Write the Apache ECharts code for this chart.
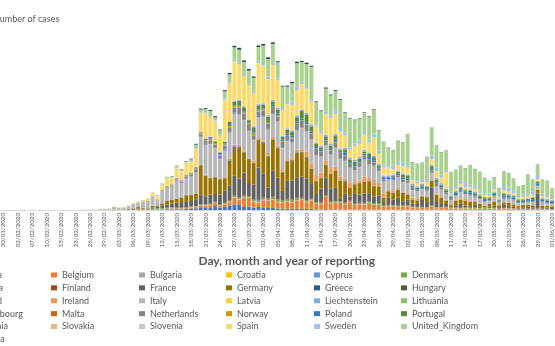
<!DOCTYPE html>
<html>
<head>
<meta charset="utf-8">
<script src="https://cdn.jsdelivr.net/npm/echarts@6/dist/echarts.min.js"></script>
<style>
html,body{margin:0;padding:0;background:#ffffff;}
#chart{width:555px;height:346px;}
</style>
</head>
<body>
<div id="chart"></div>
<script>
// Reporting dates (category axis)
const dates = [
"30/01/2020","31/01/2020","01/02/2020","02/02/2020","03/02/2020","05/02/2020","07/02/2020","08/02/2020","09/02/2020","10/02/2020","11/02/2020","12/02/2020","13/02/2020","15/02/2020","21/02/2020","23/02/2020","24/02/2020","25/02/2020","26/02/2020","27/02/2020","28/02/2020","29/02/2020",
"01/03/2020","02/03/2020","03/03/2020","04/03/2020","05/03/2020","06/03/2020","07/03/2020","08/03/2020","09/03/2020","10/03/2020","11/03/2020","12/03/2020","13/03/2020","14/03/2020","15/03/2020","16/03/2020","17/03/2020","18/03/2020","19/03/2020","20/03/2020","21/03/2020","22/03/2020","23/03/2020","24/03/2020","25/03/2020","26/03/2020","27/03/2020","28/03/2020","29/03/2020","30/03/2020","31/03/2020",
"01/04/2020","02/04/2020","03/04/2020","04/04/2020","05/04/2020","06/04/2020","07/04/2020","08/04/2020","09/04/2020","10/04/2020","11/04/2020","12/04/2020","13/04/2020","14/04/2020","15/04/2020","16/04/2020","17/04/2020","18/04/2020","19/04/2020","20/04/2020","21/04/2020","22/04/2020","23/04/2020","24/04/2020","25/04/2020","26/04/2020","27/04/2020","28/04/2020","29/04/2020","30/04/2020",
"01/05/2020","02/05/2020","03/05/2020","04/05/2020","05/05/2020","06/05/2020","07/05/2020","08/05/2020","09/05/2020","10/05/2020","11/05/2020","12/05/2020","13/05/2020","14/05/2020","15/05/2020","16/05/2020","17/05/2020","18/05/2020","19/05/2020","20/05/2020","21/05/2020","22/05/2020","23/05/2020","24/05/2020","25/05/2020","26/05/2020","27/05/2020","28/05/2020","29/05/2020","30/05/2020","31/05/2020",
"01/06/2020"
];

// Daily reported cases per country (one value per reporting date)
const Austria = [0,0,0,0,0,0,0,0,0,0,0,0,0,0,0,0,0,2,0,1,2,4,
5,4,8,5,13,13,25,25,25,29,51,115,140,142,151,140,205,316,314,550,410,390,800,500,600,900,1141,1000,600,700,500,
600,550,400,400,300,300,250,300,300,300,200,250,150,100,150,100,100,100,80,60,50,80,60,60,60,60,50,50,50,50,
50,60,40,40,40,40,40,40,40,40,30,30,30,30,30,30,30,30,30,30,20,30,30,30,20,20,20,20,20,20,20,
20];
const Belgium = [0,0,0,0,1,0,0,0,0,0,0,0,0,0,0,0,0,0,0,0,0,0,
1,6,0,5,10,27,59,60,31,39,28,47,85,169,133,197,172,185,243,309,462,558,586,342,526,668,1298,1049,1850,1702,1063,
876,1384,1422,1661,1260,1123,1380,1209,1580,1684,1351,1629,1068,1050,2454,1236,1329,1329,1045,1487,933,973,1045,1300,1032,1032,553,701,647,553,
660,606,400,344,361,323,639,325,356,373,294,279,242,280,258,301,236,199,260,276,180,271,268,199,170,148,150,138,180,150,120,
100];
const Bulgaria = [0,0,0,0,0,0,0,0,0,0,0,0,0,0,0,0,0,0,0,0,0,0,
0,0,0,0,0,0,0,0,4,0,0,3,16,0,10,10,10,30,30,30,40,20,30,20,20,20,30,30,30,30,30,
40,40,40,30,30,30,30,40,40,30,40,30,40,30,30,30,30,30,30,40,40,50,50,50,40,40,40,40,40,40,
40,40,30,30,30,30,30,30,30,30,20,20,20,20,20,20,20,20,20,20,20,20,20,20,20,20,20,20,20,20,20,
20];
const Croatia = [0,0,0,0,0,0,0,0,0,0,0,0,0,0,0,0,0,1,2,0,0,0,
1,1,2,1,1,1,0,0,0,1,2,9,5,14,4,7,8,16,40,23,47,80,50,60,60,60,70,70,60,60,60,
70,60,60,50,40,50,60,40,30,50,50,40,30,40,30,30,30,20,20,20,20,20,20,20,20,10,10,10,10,10,
10,10,10,5,5,5,5,5,5,5,5,5,5,5,2,2,2,2,2,2,2,2,2,2,1,1,1,1,1,1,1,
1];
const Cyprus = [0,0,0,0,0,0,0,0,0,0,0,0,0,0,0,0,0,0,0,0,0,0,
0,0,0,0,0,0,0,0,0,2,0,4,0,20,7,16,0,21,18,20,20,20,20,20,20,20,20,20,20,20,20,
20,20,20,20,20,20,20,20,20,20,10,10,10,10,10,10,5,5,5,5,5,5,5,5,5,2,2,2,2,2,
2,2,2,2,2,2,2,2,2,2,1,1,1,1,1,1,1,1,1,1,1,1,1,1,0,0,0,0,0,0,0,
0];
const Denmark = [0,0,0,0,0,0,0,0,0,0,0,0,0,0,0,0,0,0,0,0,1,0,
0,1,2,5,10,5,8,10,40,172,252,190,160,127,65,37,62,79,59,106,80,65,80,50,100,130,200,150,200,150,250,
280,200,300,300,370,300,300,330,390,180,230,184,177,260,200,170,180,200,170,200,150,180,150,170,130,150,200,150,150,150,
150,150,120,140,120,120,120,120,120,120,100,100,100,100,100,80,80,80,80,60,60,60,50,50,40,40,40,40,40,40,40,
30];
const Estonia = [0,0,0,0,0,0,0,0,0,0,0,0,0,0,0,0,0,0,0,0,1,0,
1,0,0,0,0,2,7,0,0,6,0,4,15,0,100,22,40,20,10,20,30,20,20,20,40,50,60,40,40,30,30,
30,30,40,40,30,20,30,30,30,30,20,20,20,20,20,20,20,20,10,10,10,10,10,10,10,10,10,10,10,10,
10,10,5,5,5,5,5,5,5,5,3,3,3,3,3,3,3,3,3,3,2,2,2,2,2,2,2,2,2,2,2,
2];
const Finland = [0,1,0,0,0,0,0,0,0,0,0,0,0,0,0,0,0,0,0,1,0,0,
3,0,3,1,6,3,3,7,6,10,15,40,46,50,50,40,60,40,40,50,50,80,60,80,80,90,90,100,100,100,100,
100,200,100,200,120,100,150,150,150,150,100,100,100,100,100,100,100,100,100,100,100,100,100,100,100,80,80,80,80,80,
80,80,60,60,60,60,60,60,60,60,50,50,50,50,50,50,50,50,50,50,30,50,50,50,30,30,30,30,30,30,30,
30];
const France = [0,0,0,0,0,0,0,0,0,0,0,0,0,1,0,0,0,2,2,4,20,19,
30,40,61,21,73,138,190,150,177,286,372,497,595,785,1000,924,1210,1097,1404,1861,1617,1847,1559,2000,2446,2929,3922,3809,4611,2599,3000,
6500,4861,2116,5233,4267,1873,3600,3777,3881,4286,4342,3114,1613,2673,3500,2633,2641,405,1800,785,2051,1700,1827,1653,1300,1537,461,1500,1065,1607,
758,1139,600,580,1384,1000,3640,1200,600,579,70,456,800,400,300,563,200,100,300,400,100,600,400,300,200,300,400,300,3000,300,300,
200];
const Germany = [1,3,1,2,2,1,1,1,0,1,0,2,0,0,0,0,0,0,2,4,20,10,
40,50,28,39,66,138,284,160,55,237,157,400,802,693,733,1043,1174,1144,1042,5940,4049,3276,3311,3000,2342,4954,5780,6294,3965,4751,4300,
5453,6156,6174,6082,5936,3677,3834,4003,4974,4800,4133,2821,2537,2082,2486,2866,3380,3609,2458,1775,1785,2237,2352,2337,2055,1737,1018,1144,1304,1478,
1639,945,793,697,685,947,1284,1209,1251,667,357,933,798,933,913,620,583,342,513,797,500,460,638,431,289,432,362,353,741,324,286,
333];
const Greece = [0,0,0,0,0,0,0,0,0,0,0,0,0,0,0,0,0,0,0,1,2,1,
3,0,3,2,22,14,13,30,7,11,44,15,30,51,38,52,21,56,31,30,50,35,60,40,50,70,70,80,60,90,80,
60,50,80,60,60,70,60,50,50,60,50,30,30,30,30,30,30,30,20,20,20,20,20,20,20,20,20,20,20,20,
15,15,15,10,10,10,10,10,10,10,10,10,10,10,10,10,10,10,10,10,5,10,10,10,5,5,5,5,5,5,5,
5];
const Hungary = [0,0,0,0,0,0,0,0,0,0,0,0,0,0,0,0,0,0,0,0,0,0,
0,0,0,2,0,2,3,0,2,3,4,3,3,11,2,7,11,8,15,12,12,18,20,20,39,35,35,42,38,39,45,
55,60,60,60,45,48,73,78,85,45,70,90,60,80,60,60,80,60,55,40,40,80,70,80,80,40,60,60,70,70,
50,40,40,30,30,40,40,40,40,30,20,20,40,40,30,30,20,20,20,30,20,20,20,20,10,10,20,20,20,10,10,
10];
const Iceland = [0,0,0,0,0,0,0,0,0,0,0,0,0,0,0,0,0,0,0,0,0,1,
0,3,3,10,8,8,5,12,11,26,12,15,32,20,39,46,80,70,80,80,70,70,80,80,80,70,90,100,70,60,60,
80,60,90,50,40,30,30,20,40,30,20,20,10,10,10,10,10,10,5,5,5,5,5,5,5,2,2,2,2,2,
2,2,1,1,1,1,1,1,1,1,0,0,0,0,0,0,0,0,0,0,0,0,0,0,0,0,0,0,0,0,0,
0];
const Ireland = [0,0,0,0,0,0,0,0,0,0,0,0,0,0,0,0,0,0,0,0,0,1,
0,1,0,1,3,1,0,5,2,13,10,9,27,20,30,40,60,70,74,190,126,102,121,200,219,235,255,302,294,200,325,
392,212,500,424,370,390,345,365,500,500,1100,1000,954,992,832,1068,709,778,493,832,394,388,936,577,936,701,834,386,376,359,
221,343,330,375,200,159,100,236,221,159,236,137,107,426,172,114,64,88,51,159,50,54,64,57,37,59,66,61,46,38,27,
77];
const Italy = [0,2,0,0,0,0,0,1,0,0,0,0,0,0,15,40,45,60,60,70,110,150,
160,480,347,400,500,769,778,1150,1300,1797,977,2400,2500,2547,3497,2823,3233,3526,4207,5322,5986,6557,5560,3700,5249,5210,6153,5959,5974,5217,4050,
4053,4782,4668,4585,4805,4316,3599,3039,3836,4204,3951,4694,4092,3153,2972,2667,3786,3493,3491,3047,2256,2729,3370,2646,3021,2357,2324,1739,2091,2086,
1872,1965,1500,1389,1221,1075,1444,1401,1327,1083,802,744,1402,888,992,789,875,675,451,813,500,642,652,669,531,300,397,584,593,516,416,
355];
const Latvia = [0,0,0,0,0,0,0,0,0,0,0,0,0,0,0,0,0,0,0,0,0,0,
0,1,0,0,0,0,0,0,0,0,8,10,3,9,5,5,5,20,10,20,30,20,20,20,10,20,20,20,20,20,20,
20,20,20,20,20,20,20,20,10,10,10,10,10,10,10,10,10,10,10,10,10,10,10,10,10,10,5,5,5,5,
5,5,5,5,5,5,5,5,5,5,2,2,2,2,2,2,2,2,2,2,2,2,2,2,1,1,1,1,1,1,1,
1];
const Liechtenstein = [0,0,0,0,0,0,0,0,0,0,0,0,0,0,0,0,0,0,0,0,0,0,
0,0,0,1,0,0,0,0,0,0,0,0,0,3,0,0,0,3,7,6,7,10,5,5,5,5,5,3,5,3,5,
3,2,3,2,1,2,1,1,1,1,1,1,1,0,0,0,0,0,0,0,0,0,0,0,0,0,0,0,0,0,
0,0,0,0,0,0,0,0,0,0,0,0,0,0,0,0,0,0,0,0,0,0,0,0,0,0,0,0,0,0,0,
0];
const Lithuania = [0,0,0,0,0,0,0,0,0,0,0,0,0,0,0,0,0,0,0,0,0,1,
0,0,0,0,0,0,0,0,0,0,0,2,3,3,3,0,3,10,10,20,20,20,30,40,40,50,60,50,40,30,30,
30,30,30,40,30,30,30,30,30,30,30,30,30,30,30,30,30,30,30,20,20,20,20,20,20,10,10,10,10,10,
10,10,10,10,10,10,10,10,10,10,10,10,10,10,10,10,10,10,10,10,5,10,10,10,5,5,5,5,5,5,5,
5];
const Luxembourg = [0,0,0,0,0,0,0,0,0,0,0,0,0,0,0,0,0,0,0,0,0,0,
1,0,0,0,1,1,2,0,0,2,5,19,12,26,25,40,60,60,140,70,135,128,100,100,150,150,150,150,150,100,100,
150,100,100,100,60,50,50,50,60,50,30,30,30,20,20,20,20,20,20,15,20,20,15,10,10,10,10,10,10,10,
10,10,10,10,10,10,10,10,10,10,5,5,5,5,5,5,5,5,5,5,5,5,5,5,5,5,5,5,5,5,5,
5];
const Malta = [0,0,0,0,0,0,0,0,0,0,0,0,0,0,0,0,0,0,0,0,0,0,
0,0,0,0,0,0,0,3,0,2,1,3,3,8,7,8,7,10,10,10,10,10,10,10,10,10,10,10,10,10,10,
10,10,10,10,10,10,10,10,10,10,10,5,5,5,5,5,5,5,5,5,5,5,5,5,5,5,5,5,5,5,
5,5,5,5,5,5,5,5,5,5,2,2,2,2,2,2,2,2,2,2,2,2,2,2,1,1,1,1,1,1,1,
1];
const Netherlands = [0,0,0,0,0,0,0,0,0,0,0,0,0,0,0,0,0,0,0,0,1,6,
5,10,6,14,44,46,46,60,77,56,61,121,111,190,155,176,278,292,346,409,534,637,573,545,811,852,1019,1172,1159,1104,884,
845,1019,1083,1026,904,1224,952,777,1213,1335,1316,1174,1259,964,867,734,1061,1140,1066,750,729,797,887,1066,655,400,400,171,201,386,
514,475,445,335,199,232,445,514,455,335,244,161,196,199,188,230,176,125,99,188,150,199,228,207,192,169,133,184,176,231,170,
109];
const Norway = [0,0,0,0,0,0,0,0,0,0,0,0,0,0,0,0,0,0,0,1,5,4,
5,6,8,10,30,25,30,50,30,42,75,119,143,177,223,143,200,152,146,207,150,270,200,200,250,270,300,300,200,300,300,
200,250,250,250,200,150,150,150,150,100,100,100,80,100,100,100,80,80,60,60,50,50,50,50,50,40,40,40,40,40,
40,40,30,30,30,30,30,30,30,30,30,30,20,20,20,20,20,20,20,20,10,20,20,20,10,10,10,10,10,10,10,
10];
const Poland = [0,0,0,0,0,0,0,0,0,0,0,0,0,0,0,0,0,0,0,0,0,0,
0,0,0,1,0,4,1,6,6,5,9,9,19,19,47,50,73,80,60,100,89,111,100,150,150,170,170,200,250,200,250,
250,200,250,400,400,300,350,400,350,370,400,300,300,300,300,300,400,300,500,300,300,300,300,400,400,300,300,300,300,300,
350,300,300,300,300,300,300,300,300,300,300,400,300,300,400,400,300,400,300,350,200,450,400,400,300,400,300,400,400,350,400,
300];
const Portugal = [0,0,0,0,0,0,0,0,0,0,0,0,0,0,0,0,0,0,0,0,0,0,
0,2,2,0,5,5,8,9,9,11,18,30,38,34,57,76,86,117,194,143,235,260,320,300,302,633,724,902,792,446,1035,
808,783,852,638,754,452,712,699,815,1516,1460,1035,598,349,514,643,750,181,657,521,629,516,371,603,595,371,163,183,295,342,
533,553,181,92,242,178,533,553,178,138,98,163,234,219,288,227,242,200,152,257,150,316,200,277,178,165,219,304,350,200,193,
200];
const Romania = [0,0,0,0,0,0,0,0,0,0,0,0,0,0,0,0,0,0,0,1,0,1,
0,0,0,0,1,0,3,6,2,5,15,4,11,38,16,33,45,30,30,30,30,60,60,80,100,120,200,250,200,150,200,
250,250,300,300,320,200,250,300,350,300,400,400,300,400,300,400,400,300,300,400,400,400,350,300,300,300,300,300,300,300,
300,300,300,250,250,250,250,300,300,300,250,250,250,200,200,200,200,200,200,200,150,200,200,200,150,150,150,150,150,150,150,
150];
const Slovakia = [0,0,0,0,0,0,0,0,0,0,0,0,0,0,0,0,0,0,0,0,0,0,
0,0,0,0,0,1,0,2,0,4,0,3,11,11,12,13,9,18,33,13,41,14,12,20,30,40,40,40,40,30,50,
40,40,50,50,50,40,60,30,80,60,60,60,100,20,40,50,30,40,30,20,20,30,40,20,20,10,10,10,10,10,
10,5,5,5,5,5,5,5,5,5,2,2,2,2,2,2,2,2,2,2,2,2,2,2,1,1,1,1,1,1,1,
1];
const Slovenia = [0,0,0,0,0,0,0,0,0,0,0,0,0,0,0,0,0,0,0,0,0,0,
0,0,0,0,6,2,4,4,6,16,27,26,42,34,38,34,37,22,31,30,40,30,30,30,30,30,30,30,30,30,30,
30,30,30,30,30,30,30,20,20,20,20,20,20,20,20,20,20,20,10,10,10,10,10,10,10,10,10,10,5,5,
5,5,5,5,5,5,5,5,5,5,2,2,2,2,2,2,2,2,2,2,2,2,2,2,1,1,1,1,1,1,1,
1];
const Spain = [0,0,1,0,0,0,0,0,1,0,0,0,0,0,0,0,0,1,4,3,5,15,
15,40,45,57,37,141,100,170,400,622,582,869,1500,1159,1900,1700,2300,2162,3650,3700,4964,3900,3900,3200,8300,7600,7800,7000,6000,6800,6500,
8195,7500,7134,6969,5478,5029,4800,5100,5002,5051,4754,4500,3268,2442,4100,5000,4000,3400,2500,1536,2700,2500,3000,2000,3600,2000,1729,1600,1100,1100,
1400,1366,750,545,356,685,1122,1410,1095,3300,350,426,594,439,500,539,300,400,295,466,300,518,400,400,300,400,500,400,400,400,300,
200];
const Sweden = [0,0,0,0,0,0,0,0,0,0,0,0,0,0,0,0,0,0,0,1,5,7,
2,7,5,10,20,35,40,30,42,45,145,171,94,154,126,68,100,90,135,150,159,163,174,200,240,300,300,350,400,300,330,
400,500,500,400,400,300,400,700,700,500,544,466,332,465,497,482,613,676,500,392,545,680,751,545,812,610,463,286,695,681,
790,428,340,401,562,705,790,674,642,376,409,562,612,790,637,676,460,292,437,468,250,638,765,500,300,400,514,670,774,500,300,
200];
const United_Kingdom = [0,2,0,0,0,0,1,0,1,4,1,0,0,0,0,0,0,0,0,3,3,7,
12,12,4,13,34,30,48,45,67,46,50,87,134,208,342,251,152,407,676,643,714,1035,665,900,1427,1452,2500,2546,2433,2619,2800,
2772,3500,3500,3800,3200,4500,3100,3634,4700,3900,4400,6500,4342,4000,4605,4100,4000,5599,4000,5850,4676,4301,3600,4583,4800,4000,4463,3600,3000,4076,
4000,6201,3200,3500,3300,4406,5500,4400,4450,3896,3877,3200,3000,2950,3800,3250,3700,3142,2500,1900,1650,3100,2900,2400,1900,1900,3700,2350,2095,2700,3000,
1936];
const Czechia = [0,0,0,0,0,0,0,0,0,0,0,0,0,0,0,0,0,0,0,0,0,0,
0,3,2,0,3,7,7,13,8,9,23,31,30,46,52,84,85,120,150,170,160,180,200,150,230,260,300,373,300,300,250,
300,300,350,300,200,150,200,250,250,200,250,200,150,150,200,150,150,150,100,100,100,100,100,100,100,80,60,60,60,60,
50,50,40,40,40,40,40,40,40,40,40,40,40,40,40,40,40,40,40,40,30,40,40,40,30,30,40,40,40,40,40,
30];

// Stacking order, bottom to top
const countries = ["Austria","Belgium","Bulgaria","Croatia","Cyprus","Denmark","Estonia","Finland","France","Germany","Greece","Hungary","Iceland","Ireland","Italy","Latvia","Liechtenstein","Lithuania","Luxembourg","Malta","Netherlands","Norway","Poland","Portugal","Romania","Slovakia","Slovenia","Spain","Sweden","United_Kingdom","Czechia"];

const caseData = {Austria, Belgium, Bulgaria, Croatia, Cyprus, Denmark, Estonia, Finland, France, Germany, Greece, Hungary, Iceland, Ireland, Italy, Latvia, Liechtenstein, Lithuania, Luxembourg, Malta, Netherlands, Norway, Poland, Portugal, Romania, Slovakia, Slovenia, Spain, Sweden, United_Kingdom, Czechia};

const palette = {
  Austria:"#4472C4", Belgium:"#ED7D31", Bulgaria:"#A5A5A5", Croatia:"#FFC000", Cyprus:"#5B9BD5", Denmark:"#70AD47",
  Estonia:"#264478", Finland:"#9E480E", France:"#636363", Germany:"#997300", Greece:"#255E91", Hungary:"#43682B",
  Iceland:"#698ED0", Ireland:"#F1975A", Italy:"#B7B7B7", Latvia:"#FFCD33", Liechtenstein:"#7CAFDD", Lithuania:"#8CC168",
  Luxembourg:"#335AA1", Malta:"#D26012", Netherlands:"#848484", Norway:"#CC9A00", Poland:"#327DC2", Portugal:"#5A8A39",
  Romania:"#8FAADC", Slovakia:"#F4B183", Slovenia:"#C9C9C9", Spain:"#FFD966", Sweden:"#9DC3E6", United_Kingdom:"#A9D18E",
  Czechia:"#203864"
};

// Legend laid out in six columns
const legendColumns = [
  ["Austria","Estonia","Iceland","Luxembourg","Romania","Czechia"],
  ["Belgium","Finland","Ireland","Malta","Slovakia"],
  ["Bulgaria","France","Italy","Netherlands","Slovenia"],
  ["Croatia","Germany","Latvia","Norway","Spain"],
  ["Cyprus","Greece","Liechtenstein","Poland","Sweden"],
  ["Denmark","Hungary","Lithuania","Portugal","United_Kingdom"]
];
const legendLeft = [-37, 51, 139, 226, 314, 401];

const FONT = "Lato, 'Open Sans', 'DejaVu Sans', sans-serif";
const TEXT = "#595959";

const chart = echarts.init(document.getElementById("chart"), null, {renderer: "canvas"});

const series = countries.map(name => ({
  name: name,
  type: "bar",
  stack: "cases",
  data: caseData[name],
  barCategoryGap: "20%",
  itemStyle: {color: palette[name]},
  emphasis: {disabled: true}
}));

const legends = legendColumns.map((col, i) => ({
  orient: "vertical",
  left: legendLeft[i],
  top: 268.5,
  width: 90,
  height: 100,
  padding: 0,
  itemGap: 0,
  itemWidth: 6,
  itemHeight: 5,
  icon: "rect",
  selectedMode: false,
  data: col,
  textStyle: {fontFamily: FONT, fontSize: 9, color: TEXT, lineHeight: 12.9}
}));

chart.setOption({
  animation: false,
  backgroundColor: "#ffffff",
  title: {
    text: "Number of cases",
    left: -7,
    top: 15,
    padding: 0,
    textStyle: {fontFamily: FONT, fontSize: 9, fontWeight: "normal", color: TEXT}
  },
  legend: legends,
  grid: {left: 1, right: 0, top: 10, bottom: 136, containLabel: false},
  xAxis: {
    type: "category",
    data: dates,
    axisTick: {show: false},
    axisLine: {lineStyle: {color: "#D9D9D9", width: 1}},
    axisLabel: {rotate: 90, interval: 2, fontSize: 6.2, fontFamily: FONT, color: TEXT, margin: 3},
    name: "Day, month and year of reporting",
    nameLocation: "middle",
    nameGap: 36,
    nameTextStyle: {fontFamily: FONT, fontSize: 12, fontWeight: "bold", color: TEXT, padding: [0, 0, 0, 18]}
  },
  yAxis: {
    type: "value",
    min: 0,
    max: 40000,
    axisLabel: {show: false},
    axisLine: {show: false},
    axisTick: {show: false},
    splitLine: {show: false}
  },
  series: series
});
</script>
</body>
</html>
